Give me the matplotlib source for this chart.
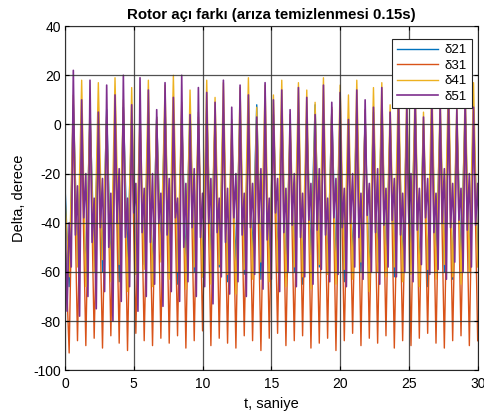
import numpy as np
import matplotlib
matplotlib.use("Agg")
import matplotlib.pyplot as plt

plt.rcParams['font.family'] = ['Liberation Sans', 'DejaVu Sans']
plt.rcParams['axes.unicode_minus'] = False

# extrema (half-period grid, 0.303 s)
d21 = [-25,
       -66, 8, -55, -2, -62, 5, -52, 0, -60, 6,
       -58, -4, -64, 7, -54, 2, -61, -6, -57, 5,
       -63, 3, -53, 8, -59, -1, -65, 4, -56, 6,
       -60, -3, -62, 7, -55, 1, -58, 5, -64, -5,
       -57, 6, -61, 3, -54, 8, -63, 0, -59, 4,
       -56, 7, -62, -2, -60, 5, -65, 2, -53, 8,
       -58, 0, -61, 6, -57, 4, -64, -3, -55, 7,
       -60, 2, -63, 5, -56, 8, -59, -1, -62, 6,
       -58, 3, -54, 7, -61, 0, -66, 5, -57, 4,
       -60, 8, -63, 2, -55, 6, -59, 5, -52]

d31 = [-45,
       -93, 2, -88, -5, -90, 5, -87, -8, -91, 3,
       -86, 0, -89, 6, -92, -3, -85, 4, -88, -6,
       -90, 2, -87, 5, -89, -2, -86, 7, -91, 0,
       -88, 3, -84, -4, -90, 6, -87, 1, -89, -3,
       -91, 5, -86, 2, -88, -6, -92, 4, -87, 0,
       -85, 6, -90, -2, -88, 3, -86, 5, -91, -5,
       -89, 2, -87, 7, -92, 0, -88, -3, -85, 4,
       -90, 6, -87, -1, -89, 3, -86, 5, -91, -4,
       -88, 2, -90, 6, -87, 0, -85, 4, -89, -2,
       -91, 5, -88, 3, -86, 1, -90, 6, -88]

d41 = [-30,
       -62, 12, -58, 18, -66, 8, -60, 17, -55, 4,
       -64, 19, -57, 10, -68, 15, -61, 6, -59, 18,
       -66, 3, -56, 16, -63, 20, -60, 9, -67, 14,
       -58, 5, -62, 18, -65, 11, -57, 17, -61, 2,
       -69, 15, -59, 19, -63, 7, -56, 16, -64, 12,
       -60, 18, -66, 4, -58, 17, -62, 14, -67, 9,
       -57, 19, -61, 6, -65, 16, -59, 12, -63, 18,
       -56, 3, -68, 15, -60, 17, -62, 8, -58, 19,
       -64, 13, -61, 16, -66, 5, -59, 18, -63, 11,
       -57, 20, -62, 9, -65, 14, -60, 17, -58]

# delta51 on a quarter-period grid (0.1515 s): peak, dip, bump, trough
d51 = [-35, -76, -40, -58,
       22, -45, -25, -78,
       10, -38, -20, -70,
       18, -48, -30, -75,
       5, -42, -22, -68,
       16, -50, -28, -80,
       12, -40, -18, -72,
       20, -46, -30, -66,
       8, -36, -24, -76,
       19, -44, -26, -70,
       14, -48, -20, -65,
       6, -40, -28, -74,
       17, -45, -22, -68,
       11, -38, -30, -72,
       20, -50, -24, -64,
       4, -42, -18, -70,
       15, -46, -28, -66,
       13, -40, -22, -73,
       9, -44, -30, -62,
       18, -48, -26, -69,
       7, -38, -20, -64,
       16, -45, -28, -70,
       12, -42, -24, -61,
       3, -40, -18, -67,
       17, -47, -30, -63,
       10, -36, -22, -68,
       14, -44, -26, -60,
       6, -41, -20, -66,
       15, -46, -28, -62,
       11, -39, -24, -65,
       4, -43, -18, -59,
       16, -45, -30, -64,
       9, -38, -22, -61,
       13, -42, -26, -66,
       2, -40, -20, -58,
       14, -46, -28, -63,
       10, -37, -24, -60,
       7, -44, -18, -65,
       15, -41, -26, -58,
       5, -39, -22, -62,
       12, -45, -28, -60,
       8, -40, -20, -64,
       14, -43, -26, -57,
       3, -38, -22, -61,
       11, -44, -28, -59,
       9, -40, -18, -63,
       13, -42, -24, -56,
       6, -39, -26, -60,
       12, -43, -20, -58,
       7, -41, -24, -55]

labels = ['δ21', 'δ31', 'δ41', 'δ51']
colors = ['#0072BD', '#D95319', '#EDB120', '#7E2F8E']

t_half = np.arange(len(d31)) * 0.303
t_q = np.arange(len(d51)) * 0.1515

fig = plt.figure(figsize=(4.85, 4.15), dpi=100)
ax = fig.add_axes([0.134, 0.108, 0.851, 0.829])

ax.plot(t_half, d21, color=colors[0], lw=1.0, label=labels[0])
ax.plot(t_half, d31, color=colors[1], lw=1.0, label=labels[1])
ax.plot(t_half, d41, color=colors[2], lw=1.0, label=labels[2])
ax.plot(t_q, d51, color=colors[3], lw=1.2, label=labels[3])

ax.set_xlim(0, 30)
ax.set_ylim(-100, 40)
ax.set_xticks(np.arange(0, 31, 5))
ax.set_yticks(np.arange(-100, 41, 20))
ax.set_axisbelow(False)
ax.grid(True, color='#333333', lw=0.9, alpha=0.85)
ax.tick_params(direction='in', top=True, right=True, labelsize=10, length=3)
ax.tick_params(axis='x', pad=5)
ax.tick_params(axis='y', pad=3)
for s in ax.spines.values():
    s.set_color('#262626')
    s.set_linewidth(0.8)

ax.set_xlabel('t, saniye', fontsize=10.5, labelpad=4)
ax.set_ylabel('Delta, derece', fontsize=10.5, labelpad=5)
ax.set_title('Rotor açı farkı (arıza temizlenmesi 0.15s)', fontsize=10.8,
             fontweight='bold', pad=5)

leg = ax.legend(loc='upper right', bbox_to_anchor=(0.987, 0.963), fontsize=9.5,
                handlelength=3.1, handletextpad=0.5, fancybox=False,
                framealpha=1, edgecolor='#262626', borderpad=0.4,
                labelspacing=0.25, borderaxespad=0)
leg.get_frame().set_linewidth(0.8)

fig.savefig('out.png', dpi=100)
